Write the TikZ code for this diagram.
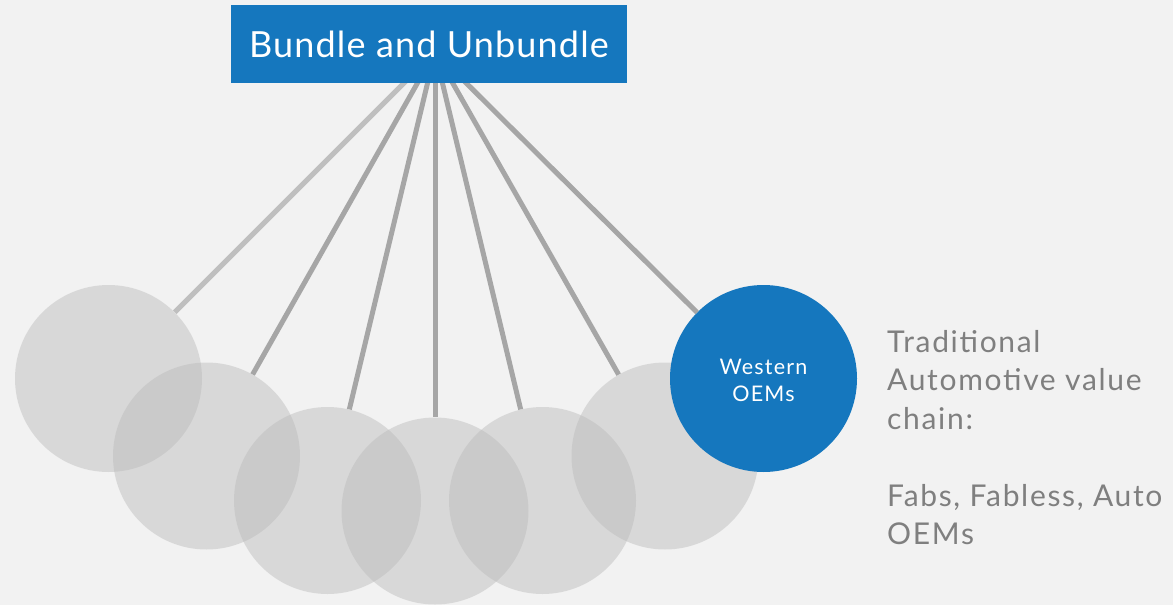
\documentclass[tikz,border=0pt]{standalone}
\usepackage{fontspec}
\setmainfont{Lato}
\newfontfamily\widelato[LetterSpace=3.2]{Lato}
\newfontfamily\widerlato[LetterSpace=5.6]{Lato}
\definecolor{bgc}{HTML}{F2F2F2}
\definecolor{bluec}{HTML}{1577BE}
\definecolor{linec}{HTML}{A6A6A6}
\definecolor{lightlinec}{HTML}{BFBFBF}
\definecolor{ballc}{HTML}{B9B9B9}
\definecolor{txtc}{HTML}{7F7F7F}
\begin{document}
\begin{tikzpicture}[x=1pt,y=-1pt,
  ball/.style={circle,minimum size=187pt,inner sep=0pt,fill=ballc,fill opacity=0.44},
  blueball/.style={circle,minimum size=187pt,inner sep=0pt,fill=bluec,text=white,align=center,font=\widerlato\fontsize{21.5}{27}\selectfont},
  string/.style={line width=5pt,draw=linec},
  titlebox/.style={fill=bluec,text=white,minimum width=396pt,minimum height=78pt,inner sep=0pt,font=\widelato\fontsize{36}{40}\selectfont},
  sidetext/.style={text=txtc,align=left,inner sep=0pt,font=\widerlato\fontsize{30}{38.5}\selectfont}]
\useasboundingbox (0,0) rectangle (1173,605);
\fill[bgc] (0,0) rectangle (1173,605);
\coordinate (pivot) at (435,52);
\node[ball] (c1) at (108.5,378.5) {};
\node[ball] (c2) at (206.5,456) {};
\node[ball] (c3) at (327.5,500.5) {};
\node[ball] (c4) at (435,511) {};
\node[ball] (c5) at (542.5,500.5) {};
\node[ball] (c6) at (665,456) {};
\node[blueball] (c7) at (763.5,378.5) {};
\node[text=white,align=center,inner sep=0pt,font=\widerlato\fontsize{21.5}{27}\selectfont] (c7t) at (763.5,380.5) {Western\\OEMs};
\draw[string,draw=lightlinec] (pivot) -- (c1);
\draw[string] (pivot) -- (c2);
\draw[string] (pivot) -- (c3);
\draw[string] (pivot) -- (c4);
\draw[string] (pivot) -- (c5);
\draw[string] (pivot) -- (c6);
\draw[string] (pivot) -- (c7);
\node[titlebox] (title) at (429,44) {Bundle and Unbundle};
\node[sidetext,anchor=base west] (side) at (887,544.5) {Traditional\\Automotive value\\chain:\\[38.5pt]Fabs, Fabless, Auto\\OEMs};
\end{tikzpicture}
\end{document}
